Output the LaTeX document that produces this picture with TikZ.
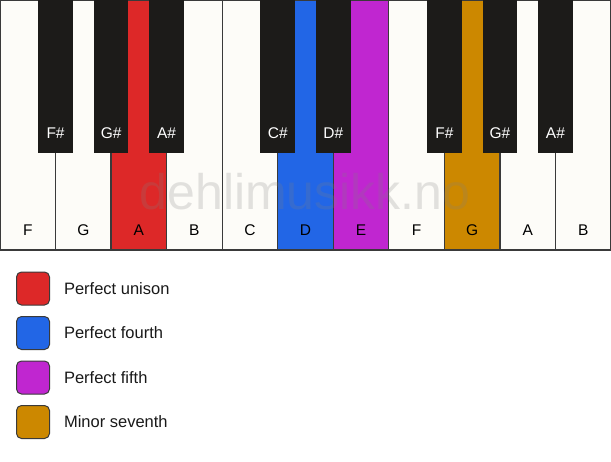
\documentclass[tikz,border=0pt]{standalone}
\usepackage{fontspec}
\setmainfont{Liberation Sans}
\usetikzlibrary{positioning}
\definecolor{keywhite}{HTML}{FDFCF8}
\definecolor{keyblack}{HTML}{1C1B19}
\definecolor{keyline}{HTML}{3A3A3A}
\definecolor{unison}{HTML}{DD2828}
\definecolor{fourth}{HTML}{2266E6}
\definecolor{fifth}{HTML}{C026D0}
\definecolor{seventh}{HTML}{CC8800}

\begin{document}
\begin{tikzpicture}[x=1pt, y=-1pt,
    whitekey/.style={draw=keyline, line width=1.2pt},
    blackkey/.style={fill=keyblack},
    keylabel/.style={font=\fontsize{15.5}{17}\selectfont},
    swatch/.style={draw=keyline, line width=1pt, rounded corners=5pt,
      minimum size=33pt, inner sep=0pt},
    legendtext/.style={font=\fontsize{16.5}{18}\selectfont, text=black!90}]
  \useasboundingbox [fill=white] (0,0) rectangle (611,461);
  \foreach \n/\c [count=\i from 0] in {F/keywhite, G/keywhite, A/unison,
      B/keywhite, C/keywhite, D/fourth, E/fifth, F/keywhite, G/seventh,
      A/keywhite, B/keywhite} {
    \draw [whitekey, fill=\c] (\i*55.545,0) rectangle ++(55.545,250);
    \node [keylabel] (w\i) at (\i*55.545+27.77,230) {\n};
  }
  \foreach \n/\k in {F\#/1, G\#/2, A\#/3, C\#/5, D\#/6, F\#/8, G\#/9, A\#/10} {
    \fill [blackkey] (\k*55.545-17.3,0) rectangle ++(34.6,153);
    \node [keylabel, text=white] (b\k) at (\k*55.545,133) {\n};
  }
  \node [font=\fontsize{50}{52}\selectfont, text=gray, opacity=0.22]
    (mark) at (305,192) {dehlimusikk.no};
  \foreach \c/\t [count=\i from 0] in {unison/Perfect unison,
      fourth/Perfect fourth, fifth/Perfect fifth, seventh/Minor seventh} {
    \node [swatch, fill=\c] (s\i) at (33,288.5+\i*44.5) {};
    \node [legendtext, right=10.5pt of s\i] (l\i) {\t};
  }
\end{tikzpicture}
\end{document}
